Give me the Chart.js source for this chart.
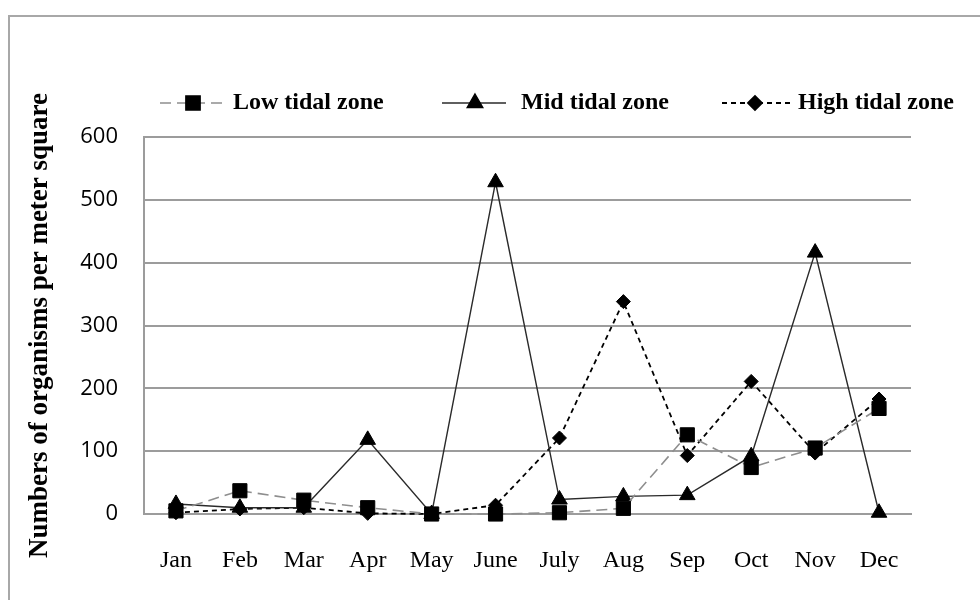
<!DOCTYPE html>
<html>
<head>
<meta charset="utf-8">
<title>Organisms per meter square by tidal zone</title>
<script src="https://cdn.jsdelivr.net/npm/chart.js@4.4.0/dist/chart.umd.min.js"></script>
<style>
  html, body { margin: 0; padding: 0; background: #fff; }
  #wrap { width: 980px; height: 600px; position: relative; }
</style>
</head>
<body>
<div id="wrap"><canvas id="zoneChart" width="980" height="600"></canvas></div>
<script>
// ─── Data ───
const months = ['Jan', 'Feb', 'Mar', 'Apr', 'May', 'June', 'July', 'Aug', 'Sep', 'Oct', 'Nov', 'Dec'];
const lowZone  = [5, 37, 22, 10, 0, 0, 2, 9, 126, 74, 105, 168];
const midZone  = [16, 10, 10, 118, 0, 528, 23, 28, 30, 92, 416, 2];
const highZone = [2, 8, 10, 1, 0, 14, 121, 338, 93, 211, 97, 183];
const seriesNames = ['Low tidal zone', 'Mid tidal zone', 'High tidal zone'];
const yTicks = [0, 100, 200, 300, 400, 500, 600];

const GRID = '#9c9c9c';

// legend drawn by hand: line segment + marker + bold label, spread across the top
const legendSpots = [
    { x0: 160, x1: 224, mx: 193, tx: 233 },
    { x0: 442, x1: 506, mx: 475, tx: 521 },
    { x0: 722, x1: 790, mx: 755, tx: 798 }
];

const framePlugin = {
    id: 'frame',
    beforeDraw(chart) {
        const c = chart.ctx;
        c.save();
        c.strokeStyle = '#a8a8a8';
        c.lineWidth = 2;
        c.beginPath();
        c.moveTo(9, 605);
        c.lineTo(9, 16);
        c.lineTo(985, 16);
        c.stroke();
        c.restore();
    }
};

const legendPlugin = {
    id: 'lineLegend',
    afterDraw(chart) {
        const c = chart.ctx;
        const y = 103;
        chart.data.datasets.forEach((ds, i) => {
            const s = legendSpots[i];
            c.save();
            c.strokeStyle = ds.borderColor;
            c.lineWidth = ds.borderWidth;
            c.setLineDash(ds.borderDash || []);
            c.beginPath();
            c.moveTo(s.x0, y);
            c.lineTo(s.x1, y);
            c.stroke();
            c.setLineDash([]);
            c.fillStyle = '#000';
            c.strokeStyle = '#000';
            Chart.helpers.drawPoint(c, {
                pointStyle: ds.pointStyle,
                radius: ds.pointRadius,
                borderWidth: 1,
                rotation: 0
            }, s.mx, y);
            c.font = 'bold 24px "Liberation Serif", "Times New Roman", serif';
            c.textBaseline = 'middle';
            c.textAlign = 'left';
            c.fillText(ds.label, s.tx, y);
            c.restore();
        });
    }
};

document.addEventListener('DOMContentLoaded', () => {
    const ctx = document.getElementById('zoneChart').getContext('2d');
    new Chart(ctx, {
        type: 'line',
        data: {
            labels: months,
            datasets: [{
                label: seriesNames[0],
                data: lowZone,
                borderColor: '#8e8e8e',
                borderWidth: 1.6,
                borderDash: [11, 6],
                pointStyle: 'rect',
                pointRadius: 10,
                pointBackgroundColor: '#000',
                pointBorderColor: '#000',
                pointBorderWidth: 1,
                tension: 0,
                clip: false
            }, {
                label: seriesNames[1],
                data: midZone,
                borderColor: '#2a2a2a',
                borderWidth: 1.4,
                pointStyle: 'triangle',
                pointRadius: 9,
                pointBackgroundColor: '#000',
                pointBorderColor: '#000',
                pointBorderWidth: 1,
                tension: 0,
                clip: false
            }, {
                label: seriesNames[2],
                data: highZone,
                borderColor: '#000',
                borderWidth: 1.8,
                borderDash: [5, 4],
                pointStyle: 'rectRot',
                pointRadius: 7,
                pointBackgroundColor: '#000',
                pointBorderColor: '#000',
                pointBorderWidth: 1,
                tension: 0,
                clip: false
            }]
        },
        options: {
            responsive: false,
            animation: false,
            layout: { padding: { left: 10, right: 69, top: 137, bottom: 0 } },
            scales: {
                x: {
                    offset: true,
                    grid: { display: false, drawTicks: false },
                    border: { display: true, color: GRID, width: 2 },
                    ticks: {
                        padding: 32,
                        color: '#000',
                        maxRotation: 0,
                        autoSkip: false,
                        font: { family: '"Liberation Serif", "Times New Roman", serif', size: 24 }
                    },
                    afterFit: s => { s.height = 86; }
                },
                y: {
                    min: 0,
                    max: 600,
                    afterBuildTicks: s => { s.ticks = yTicks.map(v => ({ value: v })); },
                    grid: { color: GRID, lineWidth: 2, drawTicks: false },
                    border: { display: true, color: GRID, width: 2 },
                    ticks: {
                        padding: 26,
                        color: '#000',
                        font: { family: '"Open Sans", "Noto Sans", sans-serif', size: 22 }
                    },
                    title: {
                        display: true,
                        text: 'Numbers of organisms per meter square',
                        color: '#000',
                        padding: { top: 14, bottom: 0 },
                        font: { family: '"Liberation Serif", "Times New Roman", serif', size: 27, weight: 'bold' }
                    },
                    afterFit: s => { s.width = 134; }
                }
            },
            plugins: {
                legend: { display: false },
                tooltip: { enabled: false }
            }
        },
        plugins: [framePlugin, legendPlugin]
    });
});
</script>
</body>
</html>
